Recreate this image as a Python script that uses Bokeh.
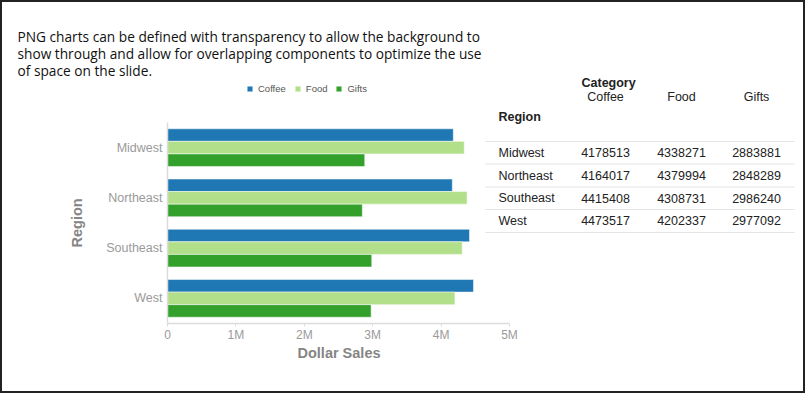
from bokeh.plotting import figure
from bokeh.models import (ColumnDataSource, Range1d, FixedTicker, Label, Title,
                          Legend, LegendItem)
from bokeh.transform import dodge
from bokeh.embed import file_html
from bokeh.resources import INLINE

# ---------------- data ----------------
regions = ["Midwest", "Northeast", "Southeast", "West"]
categories = ["Coffee", "Food", "Gifts"]
coffee = [4178513, 4164017, 4415408, 4473517]
food = [4338271, 4379994, 4308731, 4202337]
gifts = [2883881, 2848289, 2986240, 2977092]
x_ticks = [0, 1000000, 2000000, 3000000, 4000000, 5000000]
x_tick_labels = ["0", "1M", "2M", "3M", "4M", "5M"]
x_max = 5000000
title_lines = [
    "PNG charts can be defined with transparency to allow the background to",
    "show through and allow for overlapping components to optimize the use",
    "of space on the slide.",
]
colors = ["#1f78b4", "#b2df8a", "#33a02c"]

W, H = 805, 393

# frame: x from FL to page right edge; y from FT to FB.  Bars area ends at FR / starts at FC
FL, FR, FT, FC, FB = 167, 509, 75, 122, 323
n = len(regions)
y_pos = [n - 0.5 - i for i in range(n)]          # Midwest on top
x_end = x_max * (W - FL) / (FR - FL)
y_end = n * (FB - FT) / (FB - FC)

p = figure(width=W, height=H, output_backend="svg", toolbar_location=None,
           x_range=Range1d(0, x_end), y_range=Range1d(0, y_end),
           min_border_left=FL, min_border_right=0, min_border_top=FT,
           min_border_bottom=H - FB)
p.extra_x_ranges = {"px": Range1d(FL, W)}
p.extra_y_ranges = {"px": Range1d(FB, FT)}
p.background_fill_alpha = 0
p.border_fill_alpha = 0
p.outline_line_color = None
p.xgrid.visible = False
p.ygrid.visible = False
p.styles = {"box-shadow": "inset 0 0 0 2px #222222", "background-color": "white"}

src = ColumnDataSource(dict(y=y_pos, region=regions, Coffee=coffee, Food=food, Gifts=gifts))
offsets = [0.25, 0.0, -0.25]
renderers = []
for cat, col, off in zip(categories, colors, offsets):
    r = p.hbar(y=dodge("y", off), left=0, right=cat, height=0.25,
               source=src, fill_color=col, line_color="white", line_alpha=0.5, line_width=1)
    renderers.append(r)

xa = p.xaxis[0]
xa.ticker = FixedTicker(ticks=x_ticks)
xa.major_label_overrides = {t: l for t, l in zip(x_ticks, x_tick_labels)}
xa.bounds = (0, x_max)
xa.minor_tick_line_color = None
xa.major_tick_in = 0
xa.major_tick_out = 3
xa.major_tick_line_color = "#dcdcdc"
xa.axis_line_color = "#dcdcdc"
xa.axis_line_width = 1.5
xa.major_label_text_font = "Liberation Sans"
xa.major_label_text_font_size = "12px"
xa.major_label_text_color = "#9a9a9a"
xa.major_label_standoff = 1

ya = p.yaxis[0]
ya.ticker = FixedTicker(ticks=y_pos)
ya.major_label_overrides = {y: r for y, r in zip(y_pos, regions)}
ya.bounds = (0, n)
ya.major_tick_in = 0
ya.major_tick_out = 0
ya.minor_tick_line_color = None
ya.axis_line_color = "#dcdcdc"
ya.axis_line_width = 1.5
ya.major_label_orientation = "horizontal"
ya.major_label_text_font = "Liberation Sans"
ya.major_label_text_font_size = "12.5px"
ya.major_label_text_color = "#9a9a9a"
ya.major_label_standoff = 5

# axis titles, placed beside the axes and centred on the bar area
p.add_layout(Title(text="Region", align="left", offset=76, standoff=38,
                   text_font="Liberation Sans", text_font_size="14.5px",
                   text_font_style="bold", text_color="#858585"), "left")
p.add_layout(Title(text="Dollar Sales", align="left", offset=130, standoff=0,
                   vertical_align="top",
                   text_font="Liberation Sans", text_font_size="14.5px",
                   text_font_style="bold", text_color="#858585"), "below")

legend = Legend(items=[LegendItem(label=c, renderers=[r]) for c, r in zip(categories, renderers)],
                orientation="horizontal", location=(246 - FL, FB - 94),
                background_fill_alpha=0, border_line_color=None,
                glyph_width=7, glyph_height=7, label_height=10, label_standoff=5,
                label_text_font="Liberation Sans", label_text_font_size="9.5px",
                label_text_color="#555555", spacing=8, padding=0, margin=0)
p.add_layout(legend, "center")

# intro text as plot title (above panel, left aligned to page x=17)
p.add_layout(Title(text="\n".join(title_lines), align="left", offset=17 - FL,
                   text_font="Open Sans", text_font_size="13.7px", text_font_style="normal",
                   text_color="#111111", text_line_height=0.9, standoff=-9), "above")

# table (page-pixel coordinates through the "px" extra ranges)
TF = "Liberation Sans"
TC = "#222222"
col_centers = [605, 681, 756]


def lab(x, y, text, align="left", bold=False):
    p.add_layout(Label(x=x, y=y, x_range_name="px", y_range_name="px", text=text,
                       text_font=TF, text_font_size="12.5px",
                       text_font_style="bold" if bold else "normal", text_color=TC,
                       text_baseline="middle", text_align=align))


lab(581, 82, "Category", bold=True)
lab(498, 116, "Region", bold=True)
for c, cx in zip(categories, col_centers):
    lab(cx, 96, c, align="center")
row_y = [152, 175, 197.5, 220]
for i, reg in enumerate(regions):
    lab(498, row_y[i], reg)
    for vals, cx in zip([coffee, food, gifts], col_centers):
        lab(cx, row_y[i], str(vals[i]), align="center")
rule_y = [141, 163.5, 186.5, 209, 232]
p.segment(x0=[485] * len(rule_y), x1=[794] * len(rule_y), y0=rule_y, y1=rule_y,
          x_range_name="px", y_range_name="px", line_color="#e4e4e4", line_width=1)

open("out.html", "w").write(file_html(p, INLINE))
